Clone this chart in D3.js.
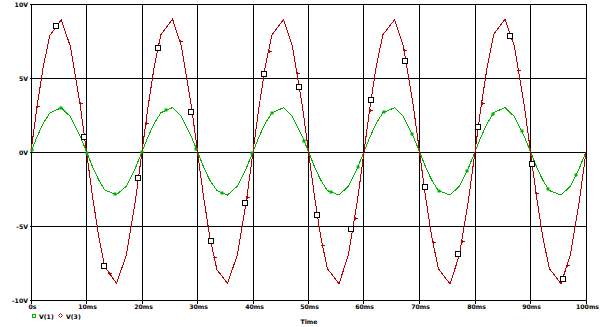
<!DOCTYPE html>
<html><head><meta charset="utf-8">
<script src="https://cdn.jsdelivr.net/npm/d3@7"></script>
<style>html,body{margin:0;padding:0;background:#fff;}svg{display:block;}</style>
</head><body>
<script>
// ---- data ----
const timeMs = [
 0,0.5,1.1,2.2,3.4,5.45,7.1,8.8,9.5,
 10,10.5,11.1,12.2,13.3,15.4,17.2,18.8,19.5,
 20,20.5,21.1,22.2,23.4,25.5,27.1,28.8,29.5,
 30,30.5,31.1,32.2,33.5,35.4,37.2,38.8,39.5,
 40,40.5,41.1,42.2,43.4,45.5,47.1,48.8,49.5,
 50,50.5,51.1,52.2,53.4,55.5,57.2,58.8,59.5,
 60,60.5,61.1,62.2,63.4,65.5,67.1,68.8,69.5,
 70,70.5,71.1,72.2,73.4,75.5,77.2,78.8,79.5,
 80,80.5,81.1,82.2,83.4,85.4,87.1,88.8,89.5,
 90,90.5,91.1,92.2,93.4,95.5,97.2,98.8,99.5,
 100];
const v3 = [
 0,1.41,3.07,5.72,7.85,8.90,7.10,3.30,1.40,
 0,-1.40,-3.05,-5.70,-7.75,-8.88,-6.95,-3.30,-1.40,
 0,1.41,3.06,5.74,7.90,8.95,7.10,3.31,1.42,
 0,-1.41,-3.05,-5.72,-7.95,-8.88,-6.94,-3.30,-1.41,
 0,1.40,3.06,5.73,7.88,8.92,7.10,3.31,1.41,
 0,-1.41,-3.06,-5.73,-7.88,-8.90,-6.95,-3.31,-1.41,
 0,1.41,3.07,5.74,7.89,8.90,7.10,3.30,1.41,
 0,-1.40,-3.06,-5.73,-7.88,-8.92,-6.95,-3.31,-1.40,
 0,1.41,3.06,5.74,7.95,8.93,7.11,3.31,1.41,
 0,-1.41,-3.06,-5.73,-7.88,-8.90,-6.95,-3.30,-1.41,
 0];
const v1 = [
 0,0.47,1.02,1.91,2.62,2.97,2.37,1.10,0.47,
 0,-0.47,-1.02,-1.90,-2.58,-2.90,-2.32,-1.10,-0.47,
 0,0.47,1.02,1.91,2.63,2.98,2.37,1.10,0.47,
 0,-0.47,-1.02,-1.91,-2.62,-2.92,-2.31,-1.10,-0.47,
 0,0.47,1.02,1.91,2.62,2.97,2.37,1.10,0.47,
 0,-0.47,-1.02,-1.91,-2.62,-2.92,-2.32,-1.10,-0.47,
 0,0.47,1.02,1.91,2.63,2.97,2.37,1.10,0.47,
 0,-0.47,-1.02,-1.91,-2.62,-2.92,-2.32,-1.10,-0.47,
 0,0.47,1.02,1.91,2.64,2.98,2.37,1.10,0.47,
 0,-0.47,-1.02,-1.91,-2.62,-2.92,-2.32,-1.10,-0.47,
 0];
// marker positions (time ms, value V)
const v1MarkT = [0.1,5.4,10.1,15.1,20.0,24.4,29.8,34.4,39.9,43.5,49.2,54.0,58.9,63.6,68.7,73.5,78.5,83.3,88.4,93.2,98.2];
const v3MarkT = [1.1,8.8,14.1,20.7,26.8,33.0,38.9,42.8,47.9,52.5,58.3,61.0,67.2,72.4,77.6,81.2,87.8,91.0,96.6];
const boxT = [4.5,9.5,13.2,19.3,22.9,28.8,32.4,38.6,42.0,48.3,51.5,57.7,61.3,67.4,71.0,76.9,80.5,86.3,90.3,95.9];
const boxV = [8.5,1.0,-7.7,-1.75,7.0,2.7,-6.0,-3.45,5.25,4.35,-4.25,-5.2,3.5,6.1,-2.4,-6.9,1.7,7.8,-0.8,-8.6];
const xTicks = [0,10,20,30,40,50,60,70,80,90,100];
const xTickLabels = ["0s","10ms","20ms","30ms","40ms","50ms","60ms","70ms","80ms","90ms","100ms"];
const yTicks = [10,5,0,-5,-10];
const yTickLabels = ["10V","5V","0V","-5V","-10V"];
const seriesNames = ["V(1)","V(3)"];
const colors = {v1:"#00b000", v3:"#b80000"};

// ---- drawing ----
const W=605,H=327;
const svg=d3.select("body").append("svg").attr("width",W).attr("height",H);
const x=d3.scaleLinear().domain([0,100]).range([31,586]);
const y=d3.scaleLinear().domain([-10,10]).range([300,3.5]);
const px=v=>Math.floor(x(v))+0.5, py=v=>Math.floor(y(v)+0.5)+0.5;
const font="'DejaVu Sans', sans-serif";
const fs=6.2;

// grid verticals (with tick extension)
svg.append("g").selectAll("line").data(xTicks).join("line")
 .attr("x1",d=>px(d)).attr("x2",d=>px(d)).attr("y1",py(10)).attr("y2",py(-10)+3)
 .attr("stroke","#000").attr("stroke-width",1).attr("shape-rendering","crispEdges");
svg.append("g").selectAll("line").data(yTicks).join("line")
 .attr("x1",px(0)-2).attr("x2",px(100)).attr("y1",d=>py(d)).attr("y2",d=>py(d))
 .attr("stroke","#000").attr("stroke-width",1).attr("shape-rendering","crispEdges");

// labels
svg.append("g").selectAll("text").data(yTicks).join("text")
 .attr("x",28).attr("y",d=>py(d)+2.5).attr("text-anchor","end")
 .attr("font-family",font).attr("font-size",fs).attr("font-weight","bold")
 .text((d,i)=>yTickLabels[i]);
svg.append("g").selectAll("text").data(xTicks).join("text")
 .attr("x",d=>px(d)+1).attr("y",309).attr("text-anchor","middle")
 .attr("font-family",font).attr("font-size",fs).attr("font-weight","bold")
 .text((d,i)=>xTickLabels[i]);
svg.append("text").attr("x",309).attr("y",324).attr("text-anchor","middle")
 .attr("font-family",font).attr("font-size",fs).attr("font-weight","bold").text("Time");

// traces
const idx=d3.range(timeMs.length);
const line=arr=>d3.line().x(i=>x(timeMs[i])).y(i=>y(arr[i]));
svg.append("path").datum(idx).attr("d",line(v1)).attr("fill","none").attr("stroke",colors.v1).attr("stroke-width",1).attr("shape-rendering","crispEdges");
svg.append("path").datum(idx).attr("d",line(v3)).attr("fill","none").attr("stroke",colors.v3).attr("stroke-width",1).attr("shape-rendering","crispEdges");

const interp=(arr,t)=>{let i=d3.bisectRight(timeMs,t)-1;i=Math.max(0,Math.min(i,timeMs.length-2));
 const f=(t-timeMs[i])/(timeMs[i+1]-timeMs[i]);return arr[i]+f*(arr[i+1]-arr[i]);};

svg.append("g").selectAll("rect").data(v1MarkT).join("rect")
 .attr("x",d=>Math.round(x(d))-1.5).attr("y",d=>Math.round(y(interp(v1,d)))-1.5).attr("width",3).attr("height",3)
 .attr("fill",colors.v1);
svg.append("g").selectAll("path").data(v3MarkT).join("path")
 .attr("d",d=>{const cx=Math.round(x(d))+0.5,cy=Math.round(y(interp(v3,d)))+0.5;return `M${cx-2},${cy}H${cx+2}M${cx},${cy-1.5}V${cy+1.5}`;})
 .attr("stroke",colors.v3).attr("stroke-width",1).attr("shape-rendering","crispEdges");
svg.append("g").selectAll("rect").data(boxT).join("rect")
 .attr("x",d=>Math.round(x(d))-2.5).attr("y",(d,i)=>Math.round(y(boxV[i]))-2.5).attr("width",5).attr("height",5)
 .attr("fill","#fff").attr("stroke","#000").attr("stroke-width",1).attr("shape-rendering","crispEdges");

// legend
const lg=svg.append("g").attr("font-family",font).attr("font-size",fs).attr("font-weight","bold");
lg.append("rect").attr("x",32.5).attr("y",314.5).attr("width",3).attr("height",3).attr("fill","none").attr("stroke",colors.v1).attr("stroke-width",1).attr("shape-rendering","crispEdges");
lg.append("text").attr("x",39).attr("y",318.5).text(seriesNames[0]);
lg.append("path").attr("d","M60.5,313.5L62.5,315.5L60.5,317.5L58.5,315.5Z").attr("fill","none").attr("stroke",colors.v3).attr("stroke-width",1);
lg.append("text").attr("x",66).attr("y",318.5).text(seriesNames[1]);
</script>
</body></html>
